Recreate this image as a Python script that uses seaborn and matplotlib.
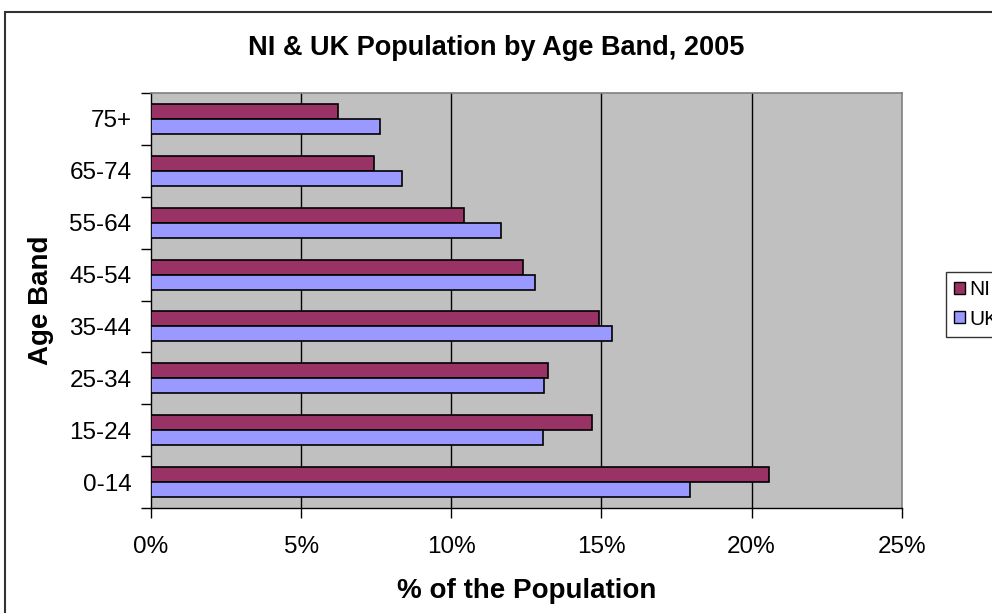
import matplotlib
matplotlib.use("Agg")
import matplotlib.pyplot as plt
from matplotlib.patches import Rectangle
from matplotlib.ticker import FuncFormatter
import seaborn as sns
import pandas as pd

# Age bands, top to bottom
age_bands = ["75+", "65-74", "55-64", "45-54", "35-44", "25-34", "15-24", "0-14"]
# Share of population (%) per age band
ni_share = [6.23, 7.43, 10.44, 12.40, 14.91, 13.22, 14.68, 20.58]
uk_share = [7.63, 8.36, 11.66, 12.80, 15.34, 13.10, 13.07, 17.94]
regions = ["NI", "UK"]
x_ticks = [0, 5, 10, 15, 20, 25]

df = pd.DataFrame({
    "Age Band": age_bands * 2,
    "Share": ni_share + uk_share,
    "Region": ["NI"] * len(age_bands) + ["UK"] * len(age_bands),
})

sns.set_theme(style="white")
plt.rcParams["font.family"] = ["Liberation Sans", "DejaVu Sans"]
plt.rcParams["text.color"] = "black"
plt.rcParams["axes.labelcolor"] = "black"
plt.rcParams["xtick.color"] = "black"
plt.rcParams["ytick.color"] = "black"

fig = plt.figure(figsize=(9.92, 6.13), dpi=100)
fig.patch.set_facecolor("white")
ax = fig.add_axes([151 / 992, 1 - 508.3 / 613, (901.7 - 151) / 992, (508.3 - 92.7) / 613])
ax.set_facecolor("#C0C0C0")

sns.barplot(
    data=df, y="Age Band", x="Share", hue="Region",
    order=age_bands, hue_order=regions,
    palette={"NI": "#993366", "UK": "#9999FF"},
    orient="h", width=0.577, gap=0, edgecolor="black", linewidth=1.2,
    saturation=1, ax=ax, zorder=3,
)

ax.set_xlim(0, 25)
ax.set_xticks(x_ticks)
ax.xaxis.set_major_formatter(FuncFormatter(lambda v, p: f"{v:.0f}%"))
ax.set_ylim(len(age_bands) - 0.5, -0.5)
for xv in x_ticks[1:-1]:
    ax.axvline(xv, color="black", lw=1, zorder=1)

# Category ticks sit between bands
ax.set_yticks(range(len(age_bands)))
ax.set_yticklabels(age_bands)
ax.set_yticks([i - 0.5 for i in range(len(age_bands) + 1)], minor=True)
ax.tick_params(axis="y", which="major", length=0, pad=14, labelsize=17.5)
ax.tick_params(axis="y", which="minor", length=7, width=1, color="black", direction="out", left=True)
ax.tick_params(axis="x", which="major", length=7, width=1, color="black", direction="out",
               bottom=True, pad=13, labelsize=17.5)

for side in ["top", "right"]:
    ax.spines[side].set_color("#808080")
    ax.spines[side].set_linewidth(1.2)
for side in ["left", "bottom"]:
    ax.spines[side].set_color("black")
    ax.spines[side].set_linewidth(1)

ax.set_xlabel("% of the Population", fontsize=20, fontweight="bold", labelpad=14)
ax.set_ylabel("Age Band", fontsize=20, fontweight="bold", labelpad=11)
fig.text(496 / 992, 1 - 48 / 613, "NI & UK Population by Age Band, 2005",
         fontsize=19.5, fontweight="bold", ha="center", va="center")

leg = ax.legend(
    loc="upper left", bbox_to_anchor=(946 / 992, 1 - 272 / 613),
    bbox_transform=fig.transFigure, frameon=True, fancybox=False,
    fontsize=15, handlelength=0.5, handleheight=0.5, handletextpad=0.2,
    borderpad=0.4, labelspacing=0.5, borderaxespad=0,
)
leg.get_frame().set_edgecolor("black")
leg.get_frame().set_linewidth(1)
leg.get_frame().set_facecolor("white")
for h in leg.legend_handles:
    h.set_edgecolor("black")
    h.set_linewidth(1)

# Outer chart border, running off the right and bottom edges
fig.patches.append(Rectangle((5 / 992, -0.1), 1.2, 1 - 12 / 613 + 0.1,
                             transform=fig.transFigure, fill=False,
                             edgecolor="#333333", lw=1.5, zorder=0))

fig.savefig("out.png", dpi=100)
